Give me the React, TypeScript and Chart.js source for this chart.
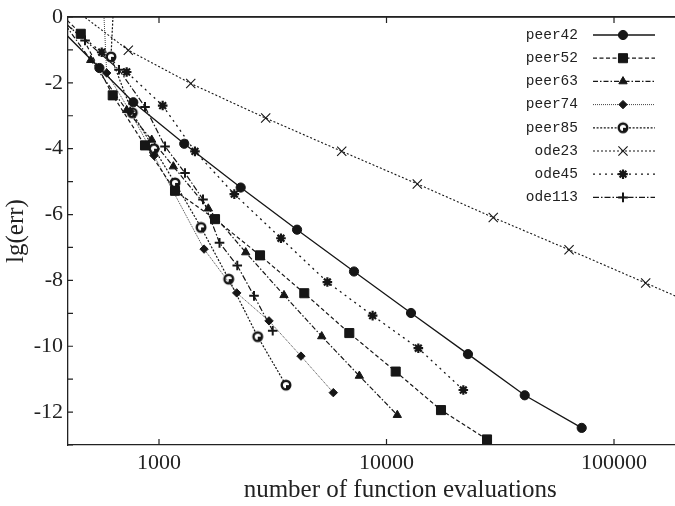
import React, { useEffect, useRef } from 'react';
import { Chart, registerables } from 'chart.js';
import { drawPoint } from 'chart.js/helpers';

Chart.register(...registerables);

// ---- data (number of function evaluations vs lg(err)) ----
const seriesNames = ['peer42', 'peer52', 'peer63', 'peer74', 'peer85', 'ode23', 'ode45', 'ode113'];

const peer42X = [360, 547, 771, 1291, 2286, 4044, 7197, 12814, 22810, 40510, 72110];
const peer42Y = [-0.29, -1.55, -2.59, -3.85, -5.18, -6.46, -7.73, -8.99, -10.24, -11.49, -12.48];

const peer52X = [360, 453, 626, 868, 1176, 1763, 2780, 4351, 6863, 10975, 17360, 27660];
const peer52Y = [0.18, -0.51, -2.38, -3.9, -5.28, -6.14, -7.24, -8.39, -9.6, -10.77, -11.94, -12.83];

const peer63X = [366, 501, 721, 929, 1156, 1647, 2405, 3543, 5190, 7596, 11155];
const peer63Y = [0, -1.31, -2.83, -3.73, -4.54, -5.82, -7.15, -8.45, -9.7, -10.9, -12.09];

const peer74X = [564, 589, 746, 951, 1578, 2196, 3045, 4208, 5837];
const peer74Y = [1, -1.7, -2.87, -4.21, -7.05, -8.38, -9.23, -10.3, -11.41];

const peer85X = [638, 615, 763, 951, 1176, 1530, 2025, 2716, 3614];
const peer85Y = [1, -1.21, -2.91, -4.0, -5.04, -6.39, -7.96, -9.71, -11.18];

const ode23X = [378, 733, 1379, 2944, 6356, 13656, 29460, 63440, 137800, 298000];
const ode23Y = [0.5, -1.01, -2.02, -3.07, -4.08, -5.07, -6.09, -7.07, -8.08, -9.09];

const ode45X = [355, 560, 721, 1038, 1439, 2143, 3436, 5496, 8690, 13800, 21760];
const ode45Y = [0, -1.07, -1.67, -2.69, -4.08, -5.38, -6.72, -8.05, -9.07, -10.06, -11.33];

const ode113X = [360, 473, 667, 868, 1063, 1301, 1561, 1845, 2208, 2616, 3161];
const ode113Y = [0, -0.71, -1.6, -2.73, -3.93, -4.74, -5.54, -6.86, -7.55, -8.47, -9.53];

const xTickValues = [1000, 10000, 100000];
const xMin = Math.pow(10, 2.6);
const xMax = Math.pow(10, 5.5204);
const yMin = -13;
const yMax = 0;

const xs = [peer42X, peer52X, peer63X, peer74X, peer85X, ode23X, ode45X, ode113X];
const ys = [peer42Y, peer52Y, peer63Y, peer74Y, peer85Y, ode23Y, ode45Y, ode113Y];

const INK = '#161616';

function makeNotchedCircle(): HTMLCanvasElement {
  const c = document.createElement('canvas');
  c.width = 14;
  c.height = 14;
  const g = c.getContext('2d')!;
  g.fillStyle = '#fff';
  g.beginPath();
  g.arc(7, 7, 4.3, 0, Math.PI * 2);
  g.fill();
  g.strokeStyle = INK;
  g.lineWidth = 2.4;
  g.beginPath();
  g.arc(7, 7, 4.3, 0, Math.PI * 2);
  g.stroke();
  g.fillStyle = INK;
  g.beginPath();
  g.moveTo(7, 7);
  g.arc(7, 7, 4.4, 0, Math.PI / 2);
  g.closePath();
  g.fill();
  return c;
}

export default function App() {
  const ref = useRef<HTMLCanvasElement | null>(null);

  useEffect(() => {
    if (!ref.current) return;
    const ring = makeNotchedCircle();

    const styles: any[] = [
      { dash: [], lw: 1.3, ps: 'circle', r: 4.6, bw: 1, color: INK },
      { dash: [4, 2.5], lw: 1.2, ps: 'rect', r: 6.4, bw: 1, color: INK },
      { dash: [5, 2, 1.5, 2], lw: 1.2, ps: 'triangle', r: 4.8, bw: 1, color: INK },
      { dash: [1, 1], lw: 1, ps: 'rectRot', r: 4.2, bw: 1, color: '#444' },
      { dash: [2, 1.6], lw: 1.2, ps: ring, r: 5, bw: 0, color: INK },
      { dash: [2, 2], lw: 1.1, ps: 'crossRot', r: 6.5, bw: 1.1, color: INK },
      { dash: [2, 4], lw: 1.3, ps: 'star', r: 4.8, bw: 2.2, color: INK },
      { dash: [6, 2, 1.5, 2], lw: 1.2, ps: 'cross', r: 4.8, bw: 2, color: INK },
    ];

    const datasets = seriesNames.map((name, i) => ({
      label: name,
      data: xs[i].map((x, j) => ({ x, y: ys[i][j] })),
      borderColor: styles[i].color,
      borderWidth: styles[i].lw,
      borderDash: styles[i].dash,
      backgroundColor: INK,
      pointStyle: styles[i].ps,
      pointRadius: styles[i].r,
      pointBorderWidth: styles[i].bw,
      pointBackgroundColor: INK,
      pointBorderColor: INK,
      fill: false,
      tension: 0,
      clip: 0,
    }));

    const framePlugin = {
      id: 'frameAndLegend',
      afterDatasetsDraw(chart: any) {
        const ctx = chart.ctx;
        const area = chart.chartArea;
        const xScale = chart.scales.x;
        const yScale = chart.scales.y;

        // top frame line and inward tick marks
        ctx.save();
        ctx.setLineDash([]);
        ctx.strokeStyle = '#222';
        ctx.lineWidth = 1.3;
        ctx.beginPath();
        ctx.moveTo(area.left, area.top);
        ctx.lineTo(area.right, area.top);
        ctx.stroke();
        ctx.lineWidth = 1.2;
        ctx.beginPath();
        for (const t of yScale.ticks) {
          const py = yScale.getPixelForValue(t.value);
          ctx.moveTo(area.left, py);
          ctx.lineTo(area.left + 5, py);
        }
        for (let i = 0; i < xScale.ticks.length; i++) {
          const px = xScale.getPixelForTick(i);
          ctx.moveTo(px, area.bottom);
          ctx.lineTo(px, area.bottom - 6);
          ctx.moveTo(px, area.top);
          ctx.lineTo(px, area.top + 6);
        }
        ctx.stroke();
        ctx.restore();

        // legend: label, line sample, marker
        ctx.save();
        seriesNames.forEach((name, i) => {
          const yy = 35 + i * 23.2;
          ctx.font = '14.5px "Liberation Mono", "DejaVu Sans Mono", monospace';
          ctx.fillStyle = '#222';
          ctx.textAlign = 'right';
          ctx.textBaseline = 'middle';
          ctx.fillText(name, 578, yy);
          const st = styles[i];
          ctx.strokeStyle = st.color;
          ctx.lineWidth = st.lw;
          ctx.setLineDash(st.dash);
          ctx.beginPath();
          ctx.moveTo(593, yy);
          ctx.lineTo(655, yy);
          ctx.stroke();
          ctx.setLineDash([]);
          ctx.fillStyle = INK;
          ctx.strokeStyle = INK;
          ctx.lineWidth = st.bw;
          drawPoint(ctx, { pointStyle: st.ps, radius: st.r, rotation: 0, borderWidth: st.bw }, 623, yy);
        });
        ctx.restore();
      },
    };

    const tickFont = { family: '"Liberation Serif", "Times New Roman", serif', size: 22 };
    const titleFont = { family: '"Liberation Serif", "Times New Roman", serif', size: 25 };

    const chart = new Chart(ref.current, {
      type: 'line',
      data: { datasets },
      options: {
        animation: false,
        responsive: false,
        devicePixelRatio: 1,
        layout: { padding: 0 },
        parsing: false as any,
        plugins: { legend: { display: false }, tooltip: { enabled: false } },
        scales: {
          x: {
            type: 'logarithmic',
            position: 'bottom',
            min: xMin,
            max: xMax,
            grid: { display: false, drawTicks: false, tickLength: 0 },
            border: { display: true, color: '#222', width: 1.3 },
            afterBuildTicks: (s: any) => {
              s.ticks = xTickValues.map((v) => ({ value: v }));
            },
            afterFit: (s: any) => {
              s.height = 61;
            },
            ticks: {
              color: '#222',
              font: tickFont,
              padding: 5,
              maxRotation: 0,
              autoSkip: false,
              callback: (v: any) => String(v),
            },
            title: {
              display: true,
              text: 'number of function evaluations',
              color: '#222',
              font: titleFont,
              padding: { top: 0, bottom: 1 },
            },
          },
          x2: {
            type: 'logarithmic',
            position: 'top',
            min: xMin,
            max: xMax,
            grid: { display: false, drawTicks: false, tickLength: 0 },
            border: { display: true, color: '#222', width: 1.3 },
            ticks: { display: false },
            afterFit: (s: any) => {
              s.height = 17;
            },
          },
          y: {
            type: 'linear',
            position: 'left',
            min: yMin,
            max: yMax,
            grid: { display: false, drawTicks: false, tickLength: 0 },
            border: { display: true, color: '#222', width: 1.3 },
            afterFit: (s: any) => {
              s.width = 68;
              s.paddingTop = 0;
              s.paddingBottom = 0;
            },
            ticks: {
              stepSize: 1,
              autoSkip: false,
              color: '#222',
              font: tickFont,
              padding: 5,
              callback: (v: any) => (Math.round(v) % 2 === 0 ? String(Math.round(v)) : ''),
            },
            title: {
              display: true,
              text: 'lg(err)',
              color: '#222',
              font: titleFont,
              padding: { top: 1, bottom: 0 },
            },
          },
        },
      } as any,
      plugins: [framePlugin],
    });

    return () => chart.destroy();
  }, []);

  return (
    <div
      style={{
        position: 'fixed',
        left: 0,
        top: 0,
        width: 675,
        height: 506,
        overflow: 'hidden',
        background: '#fff',
      }}
    >
      <canvas ref={ref} width={740} height={506} style={{ display: 'block', width: 740, height: 506 }} />
    </div>
  );
}
